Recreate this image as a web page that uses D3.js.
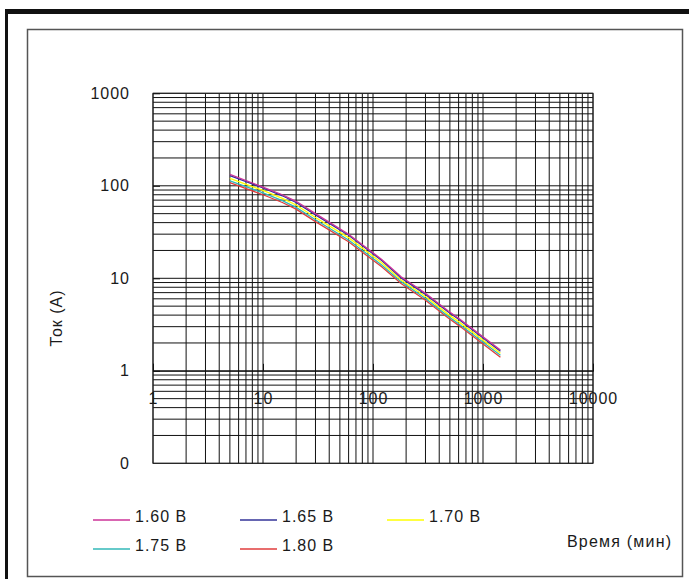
<!DOCTYPE html>
<html>
<head>
<meta charset="utf-8">
<script src="https://cdn.jsdelivr.net/npm/d3@7"></script>
<style>
  body { margin: 0; background: #fff; }
  text { font-family: "Liberation Sans", Arial, sans-serif; fill: #1a1a1a; }
</style>
</head>
<body>
<svg id="chart" width="689" height="579"></svg>
<script>
// discharge time, minutes
var times = [5, 10, 15, 20, 30, 60, 120, 180, 300, 480, 600, 1440];

// current (A) for each end voltage
var v160 = [133, 97, 80, 68, 50, 30, 16, 10.4, 6.9, 4.45, 3.7, 1.68];
var v165 = [129, 95, 78, 66, 48.5, 29.2, 15.6, 10.1, 6.7, 4.35, 3.6, 1.63];
var v170 = [120, 89, 73, 62, 45.5, 27.5, 14.7, 9.6, 6.35, 4.1, 3.4, 1.55];
var v175 = [113, 84, 69, 58.5, 43, 26, 13.9, 9.2, 6.05, 3.9, 3.22, 1.47];
var v180 = [108, 80, 66, 56, 41, 24.8, 13.3, 8.8, 5.8, 3.75, 3.1, 1.40];

var seriesNames = ["1.60 В", "1.65 В", "1.70 В", "1.75 В", "1.80 В"];
var seriesColors = ["#cc3399", "#333399", "#ffff00", "#33b8b8", "#e03c3c"];

var xTickValues = [1, 10, 100, 1000, 10000];
var xTickLabels = ["1", "10", "100", "1000", "10000"];
var yTickValues = [0.1, 1, 10, 100, 1000];
var yTickLabels = ["0", "1", "10", "100", "1000"];

var series = [v160, v165, v170, v175, v180].map(function (vals, i) {
    return {
        name: seriesNames[i],
        color: seriesColors[i],
        points: times.map(function (t, j) { return {t: t, v: vals[j]}; })
    };
});

var svg = d3.select("#chart");

// outer frame (heavy black top and left) and inner thin frame
svg.append("rect").attr("x", 5).attr("y", 9).attr("width", 684).attr("height", 5).attr("fill", "#111");
svg.append("rect").attr("x", 5).attr("y", 9).attr("width", 3).attr("height", 570).attr("fill", "#111");
svg.append("rect")
    .attr("x", 27.5).attr("y", 29.5).attr("width", 655).attr("height", 547)
    .attr("fill", "none").attr("stroke", "#555").attr("stroke-width", 1.5);

var plot = {left: 153, right: 593, top: 93.3, bottom: 463.3};

var x = d3.scaleLog().domain([1, 10000]).range([plot.left, plot.right]);
var y = d3.scaleLog().domain([0.1, 1000]).range([plot.bottom, plot.top]);

// grid
var grid = svg.append("g").attr("stroke", "#111").attr("stroke-width", 1);
grid.selectAll("line.v")
    .data(x.ticks())
    .enter().append("line")
    .attr("class", "v")
    .attr("x1", function (d) { return x(d); })
    .attr("x2", function (d) { return x(d); })
    .attr("y1", plot.top).attr("y2", plot.bottom);
grid.selectAll("line.h")
    .data(y.ticks())
    .enter().append("line")
    .attr("class", "h")
    .attr("y1", function (d) { return y(d); })
    .attr("y2", function (d) { return y(d); })
    .attr("x1", plot.left).attr("x2", plot.right);

svg.append("rect")
    .attr("x", plot.left).attr("y", plot.top)
    .attr("width", plot.right - plot.left).attr("height", plot.bottom - plot.top)
    .attr("fill", "none").attr("stroke", "#222").attr("stroke-width", 1);

// y axis: inner ticks + labels
svg.append("g")
    .attr("transform", "translate(" + plot.left + ",0)")
    .call(d3.axisRight(y).tickValues(yTickValues.slice(1)).tickSize(7).tickFormat(""))
    .call(function (g) { g.select(".domain").remove(); })
    .selectAll("line").attr("stroke", "#111");

svg.append("g")
    .attr("transform", "translate(" + plot.left + ",0)")
    .call(d3.axisLeft(y).tickValues(yTickValues).tickSize(0).tickPadding(23)
        .tickFormat(function (d, i) { return yTickLabels[i]; }))
    .call(function (g) { g.select(".domain").remove(); })
    .selectAll("text")
    .attr("font-size", 16).attr("letter-spacing", 1).attr("font-family", null);

// x axis sits on the y = 1 line
svg.append("g")
    .attr("transform", "translate(0," + y(1) + ")")
    .call(d3.axisTop(x).tickValues(xTickValues).tickSize(7).tickFormat(""))
    .call(function (g) { g.select(".domain").attr("stroke", "#111"); })
    .selectAll("line").attr("stroke", "#111");

svg.append("g")
    .attr("transform", "translate(0," + y(1) + ")")
    .call(d3.axisBottom(x).tickValues(xTickValues).tickSize(0).tickPadding(22)
        .tickFormat(function (d, i) { return xTickLabels[i]; }))
    .call(function (g) { g.select(".domain").remove(); })
    .selectAll("text")
    .attr("font-size", 16).attr("letter-spacing", 1).attr("font-family", null);

svg.selectAll(".tick text").style("fill", "#1a1a1a");

// curves
var line = d3.line()
    .x(function (d) { return x(d.t); })
    .y(function (d) { return y(d.v); });

svg.append("g").selectAll("path")
    .data(series.slice().reverse())
    .enter().append("path")
    .attr("d", function (d) { return line(d.points); })
    .attr("fill", "none")
    .attr("stroke", function (d) { return d.color; })
    .attr("stroke-width", 1.3);

// axis titles
svg.append("text")
    .attr("transform", "translate(62,318) rotate(-90)")
    .attr("text-anchor", "middle")
    .attr("font-size", 16).attr("letter-spacing", 1)
    .text("Ток (A)");

svg.append("text")
    .attr("x", 567).attr("y", 547)
    .attr("font-size", 16).attr("letter-spacing", 1.2)
    .text("Время (мин)");

// legend
var legendPos = [[93, 520], [240, 520], [387, 520], [93, 549], [240, 549]];
var legend = svg.append("g").selectAll("g")
    .data(series)
    .enter().append("g")
    .attr("transform", function (d, i) { return "translate(" + legendPos[i][0] + "," + legendPos[i][1] + ")"; });

legend.append("line")
    .attr("x1", 0).attr("x2", 37)
    .attr("stroke", function (d) { return d.color; })
    .attr("stroke-width", 1.3);

legend.append("text")
    .attr("x", 42).attr("y", 2)
    .attr("font-size", 16).attr("letter-spacing", 1)
    .text(function (d) { return d.name; });
</script>
</body>
</html>
